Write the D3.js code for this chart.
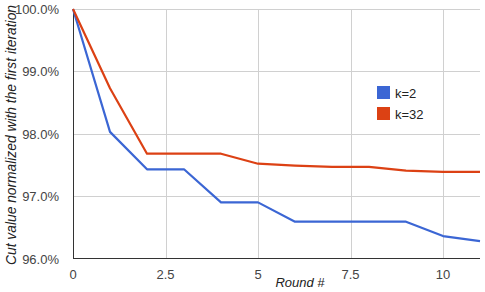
<!DOCTYPE html>
<html><head><meta charset="utf-8">
<script src="https://cdn.jsdelivr.net/npm/d3@7"></script>
<style>body{margin:0;background:#fff;}svg{display:block;font-family:"Liberation Sans",Arial,sans-serif;}</style>
</head><body>
<svg id="c" width="485" height="292"></svg>
<script>
const rounds = [0,1,2,3,4,5,6,7,8,9,10,11];
const k2 = [100.0,98.03,97.43,97.43,96.90,96.90,96.59,96.59,96.59,96.59,96.36,96.28];
const k32 = [100.0,98.73,97.68,97.68,97.68,97.52,97.49,97.47,97.47,97.41,97.39,97.39];
const seriesNames = ["k=2","k=32"];
const colors = ["#3b66d4","#dc4114"];
const xTicks = [0,2.5,5,7.5,10];
const yTicks = [96,97,98,99,100];

const svg = d3.select("#c");
const x = d3.scaleLinear().domain([0,11]).range([73,480]);
const y = d3.scaleLinear().domain([96,100]).range([258.5,9]);

// gridlines
svg.append("g").selectAll("line").data(yTicks.filter(d=>d>96)).join("line")
  .attr("x1",73).attr("x2",480).attr("y1",d=>Math.round(y(d))+0.5).attr("y2",d=>Math.round(y(d))+0.5)
  .attr("stroke","#d0d0d0").attr("stroke-width",1);
svg.append("g").selectAll("line").data(xTicks.filter(d=>d>0)).join("line")
  .attr("y1",9).attr("y2",258).attr("x1",d=>Math.round(x(d))+0.5).attr("x2",d=>Math.round(x(d))+0.5)
  .attr("stroke","#d0d0d0").attr("stroke-width",1);

// axes lines
svg.append("line").attr("x1",73.5).attr("x2",73.5).attr("y1",9).attr("y2",259).attr("stroke","#333");
svg.append("line").attr("x1",73).attr("x2",480).attr("y1",258.5).attr("y2",258.5).attr("stroke","#333");

// tick labels
svg.append("g").selectAll("text").data(yTicks).join("text")
  .attr("x",59).attr("y",d=>y(d)+5).attr("text-anchor","end")
  .attr("font-size",13).attr("fill","#444").text(d=>d3.format(".1f")(d)+"%");
svg.append("g").selectAll("text").data(xTicks).join("text")
  .attr("x",d=>x(d)).attr("y",279).attr("text-anchor","middle")
  .attr("font-size",13).attr("fill","#444").text(d=>d);

// titles
svg.append("text").attr("x",300).attr("y",287).attr("text-anchor","middle")
  .attr("font-size",13).attr("font-style","italic").attr("fill","#222").text("Round #");
svg.append("text").attr("transform","translate(16,135) rotate(-90)").attr("text-anchor","middle")
  .attr("font-size",13.8).attr("font-style","italic").attr("fill","#222")
  .text("Cut value normalized with the first iteration");

// lines
const line = d3.line().x((d,i)=>x(rounds[i])).y(d=>y(d));
[k2,k32].forEach((s,i)=>{
  svg.append("path").datum(s).attr("d",line).attr("fill","none")
    .attr("stroke",colors[i]).attr("stroke-width",2.2).attr("stroke-linejoin","round");
});

// legend
const lg = svg.append("g").attr("transform","translate(377,86)");
seriesNames.forEach((n,i)=>{
  lg.append("rect").attr("x",0).attr("y",i*21).attr("width",13).attr("height",13).attr("fill",colors[i]);
  lg.append("text").attr("x",18).attr("y",i*21+11.5).attr("font-size",13).attr("fill","#222").text(n);
});
</script>
</body></html>
